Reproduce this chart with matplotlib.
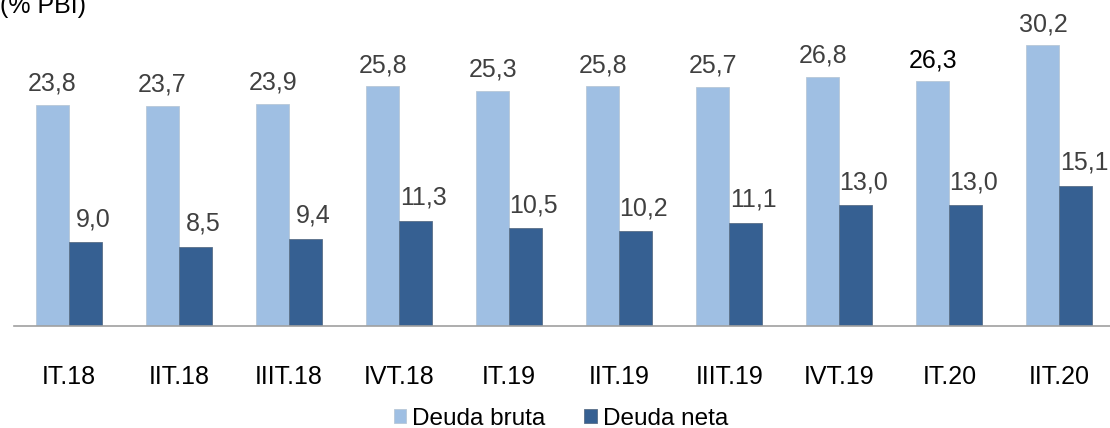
import matplotlib.pyplot as plt
import numpy as np

# datos (% PBI)
trimestres = ["IT.18", "IIT.18", "IIIT.18", "IVT.18", "IT.19",
              "IIT.19", "IIIT.19", "IVT.19", "IT.20", "IIT.20"]
deuda_bruta = [23.8, 23.7, 23.9, 25.8, 25.3, 25.8, 25.7, 26.8, 26.3, 30.2]
deuda_neta = [9.0, 8.5, 9.4, 11.3, 10.5, 10.2, 11.1, 13.0, 13.0, 15.1]

c_bruta = "#9fbfe3"
c_neta = "#366092"

plt.rcParams["font.family"] = ["Liberation Sans", "DejaVu Sans"]

fig = plt.figure(figsize=(11.1, 4.28), dpi=100)
ax = fig.add_axes([14 / 1110, 1 - 326 / 428, 1 - 14 / 1110, 326 / 428])

x = np.arange(len(trimestres))
w = 0.3
b1 = ax.bar(x - w / 2, deuda_bruta, w, color=c_bruta, edgecolor="#b8c8d8",
            linewidth=0.6, label="Deuda bruta")
b2 = ax.bar(x + w / 2, deuda_neta, w, color=c_neta, edgecolor="#5a6f88",
            linewidth=0.6, label="Deuda neta")

def fmt(v):
    return f"{v:.1f}".replace(".", ",")

for i, v in enumerate(deuda_bruta):
    col = "black" if i == 8 else "#404040"
    ax.annotate(fmt(v), (x[i] - w / 2, v), xytext=(0, 21),
                textcoords="offset pixels", ha="center", va="center",
                fontsize=18, color=col)
for i, v in enumerate(deuda_neta):
    ax.annotate(fmt(v), (x[i] + w / 2, v), xytext=(8, 23),
                textcoords="offset pixels", ha="center", va="center",
                fontsize=18, color="#404040")

ax.set_xlim(-0.5, 9.46)
ax.set_ylim(0, 35.05)
ax.set_xticks(x)
ax.set_xticklabels(trimestres, fontsize=18)
ax.tick_params(axis="x", length=0, pad=28)
ax.set_yticks([])
for s in ["top", "right", "left"]:
    ax.spines[s].set_visible(False)
ax.spines["bottom"].set_color("#a0a0a0")
ax.spines["bottom"].set_linewidth(1.2)

# título (cortado arriba, como en el original)
fig.text(0.0, 1 - 13 / 428, "(% PBI)", fontsize=18, ha="left",
         va="baseline", color="black")

fig.legend(handles=[b1, b2], loc="center", bbox_to_anchor=(561 / 1110, 1 - 419 / 428),
           ncol=2, frameon=False, fontsize=17.5, handlelength=0.5,
           handleheight=0.5, handletextpad=0.25, columnspacing=1.6,
           borderpad=0.1)

fig.savefig("out.png", dpi=100)
